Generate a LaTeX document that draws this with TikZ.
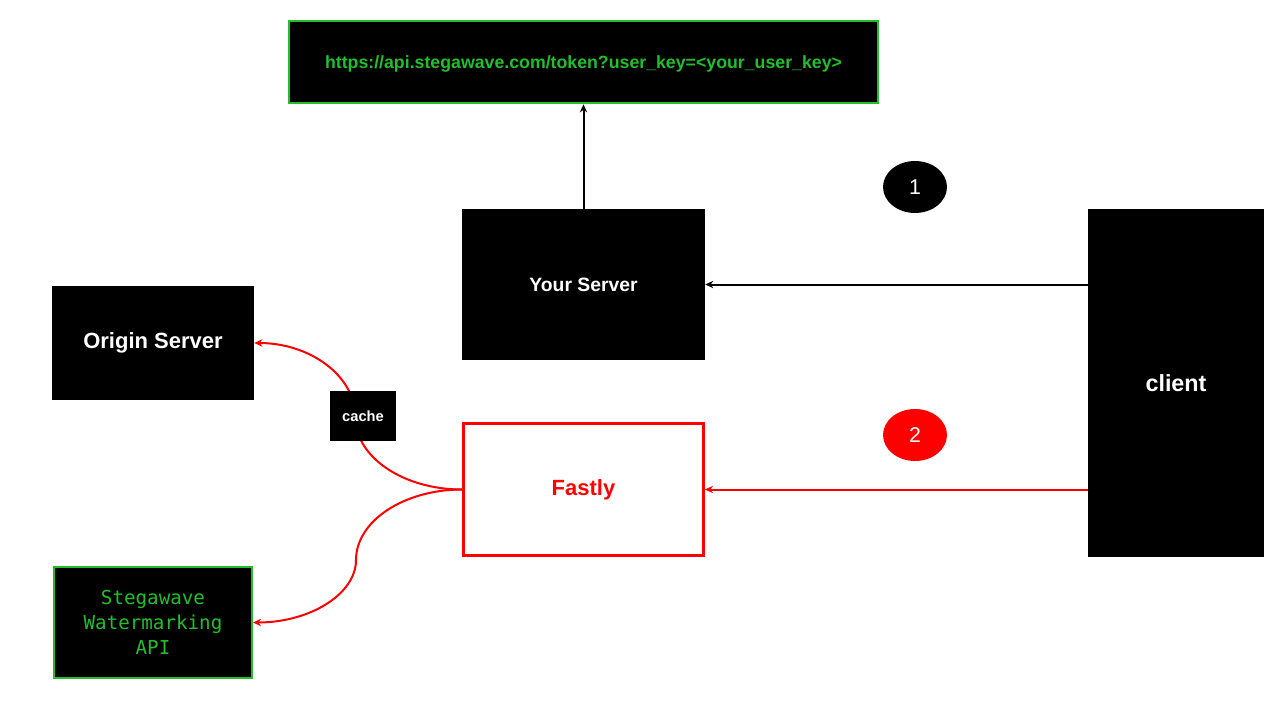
\documentclass[tikz,border=0pt]{standalone}
\usepackage{fontspec}
\setmainfont{Liberation Sans}
\setmonofont{DejaVu Sans Mono}
\usetikzlibrary{arrows.meta}
\definecolor{ggreen}{RGB}{34,190,44}
\definecolor{rred}{RGB}{255,0,0}
\tikzset{
  blackbox/.style={draw=none,fill=black,text=white,font=\bfseries,inner sep=0pt,align=center},
  greenbox/.style={draw=ggreen,line width=1.5pt,fill=black,text=ggreen,inner sep=0pt,align=center},
  numdot/.style={ellipse,minimum width=48pt,minimum height=39pt,inner sep=0pt,text=white,font=\fontsize{16}{18}\selectfont},
  conn/.style={line width=1.5pt,-{Stealth[length=6pt,width=5.5pt]}},
}
\usetikzlibrary{shapes.geometric}
\begin{document}
\begin{tikzpicture}[x=0.75pt,y=-0.75pt]
\useasboundingbox (0,0) rectangle (1280,720);
\fill[white] (0,0) rectangle (1280,720);

\node[greenbox,minimum width=442pt,minimum height=62pt] (url) at (583.5,62) {};
\node[text=ggreen,font=\bfseries\fontsize{13.3}{15}\selectfont,inner sep=0pt] (urltext) at (583.5,63.5) {https://api.stegawave.com/token?user\_key=<your\_user\_key>};
\node[blackbox,minimum width=182.25pt,minimum height=113.25pt,font=\bfseries\fontsize{14.5}{17}\selectfont] (ys) at (583.5,284.5) {Your Server};
\node[blackbox,minimum width=151.5pt,minimum height=85.5pt,font=\bfseries\fontsize{16.5}{19}\selectfont] (origin) at (153,343) {Origin Server};
\node[draw=rred,line width=2.25pt,fill=white,text=rred,inner sep=0pt,minimum width=180pt,minimum height=99pt,font=\bfseries\fontsize{16.5}{19}\selectfont] (fastly) at (583.5,489.5) {Fastly};
\node[greenbox,minimum width=148.5pt,minimum height=83.25pt,font=\ttfamily\fontsize{14.4}{19}\selectfont] (api) at (153,622.5) {Stegawave\\Watermarking\\API};
\node[blackbox,minimum width=132pt,minimum height=261pt,font=\bfseries\fontsize{17.5}{20}\selectfont] (client) at (1176,383) {client};

\node[numdot,fill=black] (n1) at (915,187) {1};
\node[numdot,fill=rred] (n2) at (915,435) {2};

\coordinate (m1) at (355,416);
\coordinate (m2) at (356,560);

\draw[conn,black] (ys.north) -- (url.south);
\draw[conn,black] (ys.east -| client.west) -- (ys.east);
\draw[conn,rred] (fastly.east -| client.west) -- (fastly.east);

\draw[conn,rred] (fastly.west) .. controls +(-59,0) and +(0,41) .. (m1)
  .. controls +(0,-40) and +(56,0) .. (origin.east);
\draw[conn,rred] (fastly.west) .. controls +(-58,0) and +(0,-39) .. (m2)
  .. controls +(0,34) and +(57,0) .. (api.east);

\node[blackbox,minimum width=49.5pt,minimum height=37.5pt,font=\bfseries\fontsize{11}{13}\selectfont] (cache) at (363,416) {cache};
\end{tikzpicture}
\end{document}
